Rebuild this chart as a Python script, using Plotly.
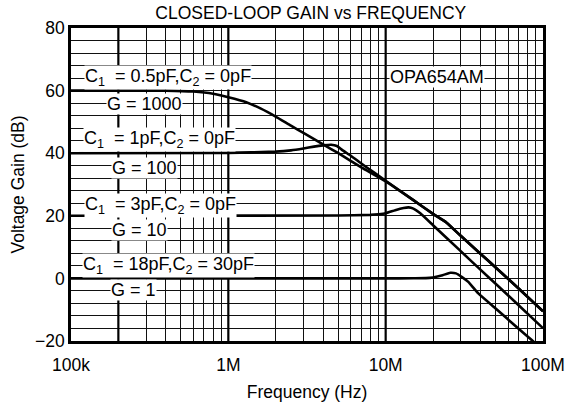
import math
import plotly.graph_objects as go

# ---- data ----
f_g1000 = [1e5, 4e5, 6e5, 8e5, 1e6, 1.3e6, 1.6e6, 2e6, 2.5e6, 3e6, 4e6, 5e6, 7e6, 1e7,
           1.5e7, 2e7, 2.44e7, 3e7, 4e7, 5e7, 7e7, 1e8]
gain_g1000 = [60, 60, 59.7, 59.0, 57.9, 56.3, 54.3, 51.7, 48.8, 46.5, 42.8, 40.0, 35.5, 31.0,
              25.0, 20.6, 17.8, 13.6, 7.9, 3.5, -3.2, -10.5]

f_g100 = [1e5, 1e6, 2e6, 2.5e6, 3e6, 3.5e6, 4e6, 4.5e6, 4.9e6, 5.3e6, 6e6, 7e6, 8.5e6, 1e7,
          1.5e7, 2e7, 2.44e7, 3e7, 4e7, 5e7, 7e7, 1e8]
gain_g100 = [40, 40.1, 40.5, 40.9, 41.5, 42.1, 42.5, 42.7, 42.3, 41.0, 39.2, 36.7, 33.7, 31.2,
             25.0, 20.6, 17.8, 13.6, 7.9, 3.5, -3.2, -10.5]

f_g10 = [1e5, 5e6, 8e6, 9e6, 1e7, 1.15e7, 1.3e7, 1.4e7, 1.5e7, 1.66e7, 2e7, 3e7, 4e7, 5e7, 7e7, 1e8]
gain_g10 = [20, 20.1, 20.3, 20.5, 20.8, 21.8, 22.5, 22.7, 22.3, 20.8, 17.0, 8.7, 2.8, -1.7, -8.6, -15.9]

f_g1 = [1e5, 1e7, 1.5e7, 1.8e7, 2e7, 2.3e7, 2.57e7, 2.8e7, 3.04e7, 3.35e7, 3.88e7, 5e7, 7e7, 8.44e7, 1e8]
gain_g1 = [0, 0, 0.05, 0.1, 0.3, 1.0, 1.8, 1.6, 0.5, -1.1, -4.8, -9.6, -16.1, -19.6, -22.9]

x_tick_vals = [m * 10 ** e for e in (5, 6, 7) for m in range(1, 10)] + [1e8]
x_tick_labels = {1e5: "100k", 1e6: "1M", 1e7: "10M", 1e8: "100M"}
y_tick_vals = list(range(-20, 81, 4))
y_tick_labels = {-20: "\u221220", 0: "0", 20: "20", 40: "40", 60: "60", 80: "80"}
bold_freqs = [2e5, 1e6, 1e7]

S2 = "\u00a0\u00a0"
S1 = "\u00a0"
label_texts = [f"C<sub>1</sub>{S2}= 0.5pF,C<sub>2</sub>{S1}= 0pF", "G = 1000",
               f"C<sub>1</sub>{S2}= 1pF,C<sub>2</sub>{S1}= 0pF", "G = 100",
               f"C<sub>1</sub>{S2}= 3pF,C<sub>2</sub>{S1}= 0pF", "G = 10",
               f"C<sub>1</sub>{S2}= 18pF,C<sub>2</sub>{S1}= 30pF", "G = 1",
               "OPA654AM"]
label_freqs = [4.13e5, 2.95e5, 3.65e5, 2.93e5, 3.73e5, 2.73e5, 4.17e5, 2.5e5, 2.13e7]
label_gains = [64.3, 55.8, 44.3, 35.3, 23.4, 15.6, 4.0, -3.6, 64.3]

FONT = "Liberation Sans, Arial, sans-serif"

fig = go.Figure()

for fv in bold_freqs:
    fig.add_trace(go.Scatter(x=[fv, fv], y=[-20, 80], mode="lines",
                             line=dict(color="black", width=2.2),
                             showlegend=False, hoverinfo="skip"))

for fx, gy in [(f_g1000, gain_g1000), (f_g100, gain_g100), (f_g10, gain_g10), (f_g1, gain_g1)]:
    fig.add_trace(go.Scatter(x=fx, y=gy, mode="lines",
                             line=dict(color="black", width=2.6, shape="spline", smoothing=0.4),
                             showlegend=False, hoverinfo="skip"))

for t, fx, gy in zip(label_texts, label_freqs, label_gains):
    fig.add_annotation(x=math.log10(fx), y=gy, xref="x", yref="y", text=t, showarrow=False,
                       bgcolor="white", borderpad=0,
                       font=dict(family=FONT, size=18, color="black"))

fig.update_layout(
    width=569, height=409,
    margin=dict(l=71, r=26, t=28, b=68, autoexpand=False),
    paper_bgcolor="white", plot_bgcolor="white",
    font=dict(family=FONT, size=17.5, color="black"),
    title=dict(text="CLOSED-LOOP GAIN vs FREQUENCY", x=0.508, xref="paper",
               y=0.968, yref="container", xanchor="center", yanchor="middle",
               font=dict(family=FONT, size=17.5, color="black")),
)

fig.update_xaxes(type="log", range=[5, 8], tickmode="array", tickvals=x_tick_vals,
                 ticktext=[x_tick_labels.get(v, "") for v in x_tick_vals],
                 showgrid=True, gridcolor="#111", gridwidth=1, ticks="",
                 showline=True, linecolor="black", linewidth=2.5, mirror=True,
                 zeroline=False, ticklabelstandoff=6, automargin=False,
                 title=dict(text="Frequency (Hz)", standoff=12,
                            font=dict(family=FONT, size=17.5)))
fig.update_yaxes(range=[-20, 80], tickmode="array", tickvals=y_tick_vals,
                 ticktext=[y_tick_labels.get(v, "") for v in y_tick_vals],
                 showgrid=True, gridcolor="#111", gridwidth=1, ticks="",
                 showline=True, linecolor="black", linewidth=2.5, mirror=True,
                 zeroline=False, ticklabelstandoff=0, automargin=False,
                 title=dict(text="Voltage Gain (dB)", standoff=6,
                            font=dict(family=FONT, size=17.5)))

fig.write_html("out.html", config={"displayModeBar": False},
               post_script="document.body.style.margin='0';document.body.style.overflow='hidden';")
